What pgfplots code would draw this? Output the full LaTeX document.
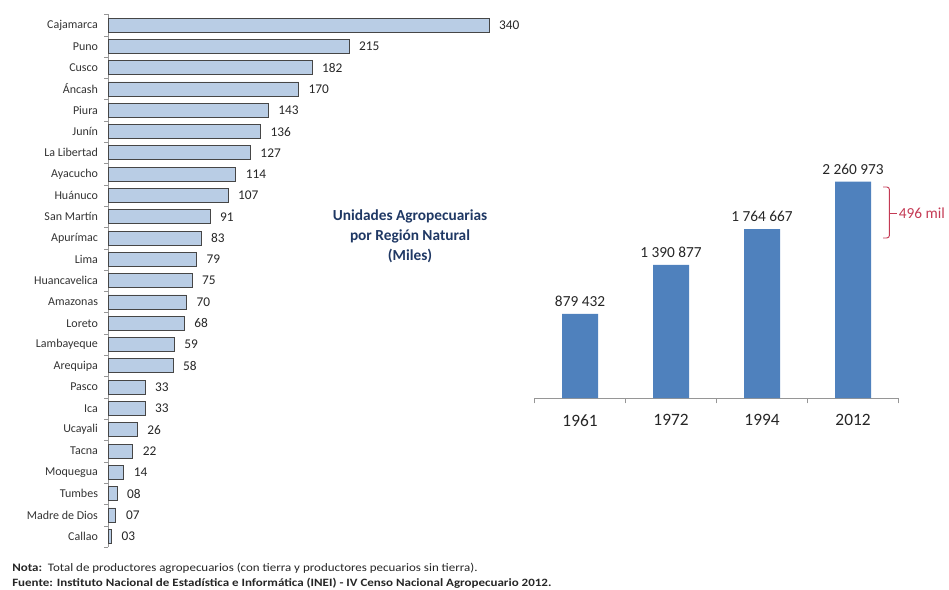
\documentclass[border=0pt]{standalone}
\usepackage{pgfplots}
\pgfplotsset{compat=1.18}
\usepackage{pgfplotstable}
\usepackage{fontspec}
\setmainfont{Carlito}
\newfontfamily\widefontA[FakeStretch=1.13]{Carlito}
\newfontfamily\widefontB[FakeStretch=1.16]{Carlito}
\definecolor{lbar}{RGB}{185,205,229}
\definecolor{lbord}{RGB}{70,70,70}
\definecolor{rbar}{RGB}{79,129,189}
\definecolor{navy}{RGB}{31,56,100}
\definecolor{redm}{RGB}{196,58,84}
\definecolor{axgray}{RGB}{150,150,150}

\pgfplotstableread[col sep=comma]{
pos,value,label,name
24,340,340,Cajamarca
23,215,215,Puno
22,182,182,Cusco
21,170,170,Áncash
20,143,143,Piura
19,136,136,Junín
18,127,127,La Libertad
17,114,114,Ayacucho
16,107,107,Huánuco
15,91,91,San Martín
14,83,83,Apurímac
13,79,79,Lima
12,75,75,Huancavelica
11,70,70,Amazonas
10,68,68,Loreto
9,59,59,Lambayeque
8,58,58,Arequipa
7,33,33,Pasco
6,33,33,Ica
5,26,26,Ucayali
4,22,22,Tacna
3,14,14,Moquegua
2,8,08,Tumbes
1,7,07,Madre de Dios
0,3,03,Callao
}\regiones

\begin{document}
\begin{tikzpicture}
\path (0,0) rectangle (711.75pt,-441.75pt);

% Left horizontal bar chart
\begin{axis}[
  at={(81pt,-410.2pt)}, anchor=south west,
  scale only axis, width=285.75pt, height=399.4pt,
  xbar, bar width=10.5pt,
  xmin=0, xmax=340, ymin=-0.5, ymax=24.5,
  axis x line=none, axis y line*=left,
  y axis line style={draw=axgray,-},
  ytick={24,23,...,0},
  yticklabels={Cajamarca,Puno,Cusco,Áncash,Piura,Junín,La Libertad,Ayacucho,Huánuco,San Martín,Apurímac,Lima,Huancavelica,Amazonas,Loreto,Lambayeque,Arequipa,Pasco,Ica,Ucayali,Tacna,Moquegua,Tumbes,Madre de Dios,Callao},
  major tick length=0pt,
  minor ytick={-0.5,0.5,...,24.5},
  minor tick length=3pt,
  tick align=outside,
  tick style={axgray},
  yticklabel style={font=\fontsize{9}{10}\selectfont, text=black!80, xshift=-4pt},
  /pgf/number format/assume math mode=true,
  nodes near coords,
  point meta=explicit symbolic,
  nodes near coords style={font=\fontsize{10}{12}\selectfont, anchor=west, xshift=4pt, text=black!85},
  clip=false,
]
\addplot[fill=lbar, draw=lbord, line width=0.6pt] table[x=value, y=pos, meta=label] {\regiones};
\end{axis}

% Right vertical bar chart
\begin{axis}[
  at={(400.9pt,-298.5pt)}, anchor=south west,
  scale only axis, width=273pt, height=179.4pt,
  ybar, bar width=27pt,
  xmin=-0.5, xmax=3.5, ymin=0, ymax=2500000,
  axis y line=none, axis x line*=bottom,
  x axis line style={draw=axgray,-},
  xtick={0,1,2,3}, xticklabels={1961,1972,1994,2012},
  major tick length=0pt,
  minor xtick={-0.5,0.5,1.5,2.5,3.5},
  minor tick length=4pt,
  tick align=outside,
  tick style={axgray},
  xticklabel style={font=\fontsize{13}{15}\selectfont, text=black!85, yshift=-9pt},
  /pgf/number format/assume math mode=true,
  nodes near coords,
  point meta=explicit symbolic,
  nodes near coords style={font=\fontsize{11.5}{13}\selectfont, text=black!85, yshift=2pt},
  clip=false,
]
\addplot[fill=rbar, draw=none] coordinates {
  (0,879432) [879 432]
  (1,1390877) [1 390 877]
  (2,1764667) [1 764 667]
  (3,2260973) [2 260 973]
};
\draw[redm, line width=0.7pt, rounded corners=2pt]
  (axis cs:3.33,2205500) -- (axis cs:3.40,2205500) -- (axis cs:3.40,1672400) -- (axis cs:3.33,1672400);
\draw[redm, line width=0.7pt] (axis cs:3.40,1933700) -- (axis cs:3.48,1933700);
\node[anchor=west, inner sep=0pt, text=redm, font=\fontsize{11.5}{13}\selectfont] at (axis cs:3.50,1933700) {496 mil};
\end{axis}

% Middle title
\node[align=center, text=navy, font=\fontsize{11.5}{15}\selectfont\bfseries] at (307.5pt,-177pt)
  {Unidades Agropecuarias\\por Región Natural\\(Miles)};

% Footnotes
\node[anchor=west, inner sep=0pt, font=\widefontA\fontsize{8.6}{10}\selectfont, text=black!85] at (9pt,-426pt)
  {\textbf{Nota:}\ \ Total de productores agropecuarios (con tierra y productores pecuarios sin tierra).};
\node[anchor=west, inner sep=0pt, font=\widefontB\fontsize{8.4}{10}\selectfont\bfseries, text=black!85] at (9pt,-437.5pt)
  {Fuente: Instituto Nacional de Estadística e Informática (INEI) - IV Censo Nacional Agropecuario 2012.};
\end{tikzpicture}
\end{document}
